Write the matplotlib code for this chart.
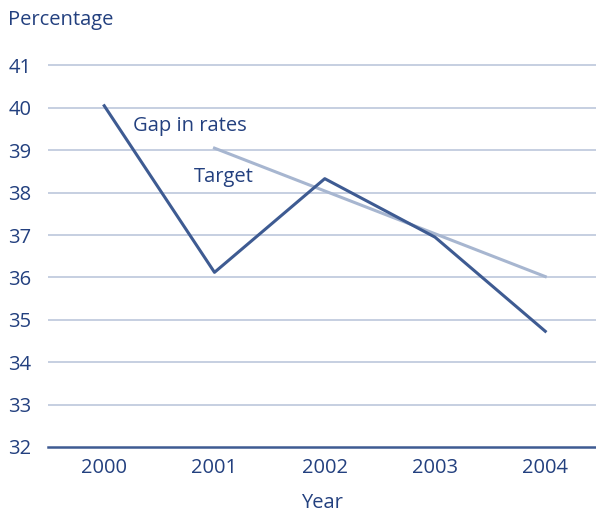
import matplotlib
matplotlib.use("Agg")
import matplotlib.pyplot as plt

years = [2000, 2001, 2002, 2003, 2004]
gap = [40.05, 36.12, 38.33, 36.95, 34.73]
target_years = [2001, 2004]
target = [39.05, 36.02]
yticks = list(range(32, 42))

text_c = "#23407f"
dark = "#3e5b92"
light = "#a7b6d0"
grid_c = "#b7c2d8"

plt.rcParams['font.family'] = ['Open Sans', 'DejaVu Sans']
fs = 14.5

fig = plt.figure(figsize=(5.96, 5.15), dpi=100)
ax = fig.add_axes([48/596, 68/515, 548/596, 390/515])

for v in yticks[1:]:
    ax.axhline(v, color=grid_c, lw=1.1, zorder=1)
ax.axhline(32, color=dark, lw=1.8, zorder=2, clip_on=False)

ax.plot(target_years, target, color=light, lw=2.2, zorder=3)
ax.plot(years, gap, color=dark, lw=2.2, zorder=4)

ax.text(2000.26, 39.57, "Gap in rates", color=text_c, fontsize=fs, va="center")
ax.text(2000.81, 38.38, "Target", color=text_c, fontsize=fs, va="center")

ax.set_xlim(1999.49, 2004.46)
ax.set_ylim(32, 41.2)
ax.set_xticks(years)
ax.set_yticks(yticks)
ax.tick_params(length=0, colors=text_c, labelsize=fs)
ax.tick_params(axis="y", pad=12)
ax.tick_params(axis="x", pad=8)
for s in ax.spines.values():
    s.set_visible(False)

ax.set_xlabel("Year", color=text_c, fontsize=fs, labelpad=10.5)
fig.text(8/596, 1 - 20/515, "Percentage", color=text_c, fontsize=fs, va="center")

fig.savefig("out.png", dpi=100)
